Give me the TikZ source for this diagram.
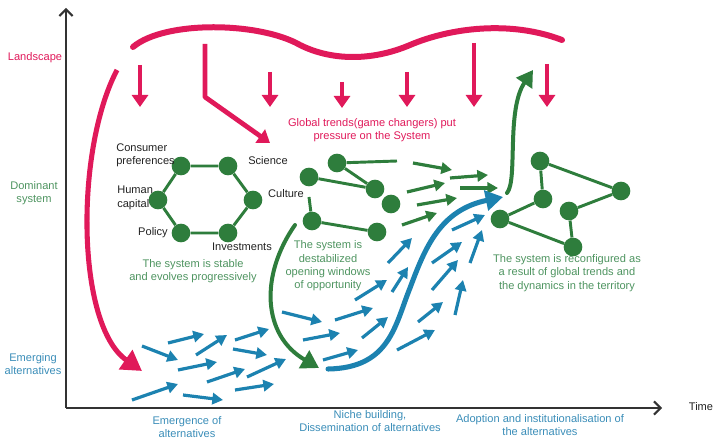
\documentclass[tikz,border=0pt]{standalone}
\usepackage{fontspec}
\setmainfont{Liberation Sans}
\usetikzlibrary{arrows.meta}
\definecolor{pinkc}{HTML}{E0195A}
\definecolor{greenc}{HTML}{2E7D3C}
\definecolor{greent}{HTML}{4E9460}
\definecolor{bluec}{HTML}{1C82B0}
\definecolor{bluet}{HTML}{3A8DB8}
\definecolor{axisc}{HTML}{333333}
\definecolor{labc}{HTML}{222222}
\begin{document}
\begin{tikzpicture}[x=0.75pt,y=-0.75pt,
  lbl/.style={font=\fontsize{8.3}{10}\selectfont, align=center, inner sep=0pt},
  dot/.style={circle, fill=greenc, minimum size=14pt, inner sep=0pt},
  edge/.style={draw=greenc, line width=2.2pt},
  barr/.style={draw=bluec, line width=2.4pt, -{Triangle[length=8pt,width=8.5pt]}},
  garr/.style={draw=greenc, line width=2.4pt, -{Triangle[length=8pt,width=8.5pt]}},
  parr/.style={draw=pinkc, line width=3.6pt, -{Triangle[length=9pt,width=12pt]}},
  axis/.style={draw=axisc, line width=1.5pt, -{Straight Barb[length=5pt,width=10pt]}}
  ]
\path[use as bounding box] (0,0) rectangle (715,441);

% axes
\coordinate (o) at (66,408);
\coordinate (ytop) at (66,8);
\coordinate (xend) at (662,408);
\draw[axis] (o) -- (ytop);
\draw[axis] (o) -- (xend);
\node[lbl, text=labc] (time) at (701,407) {Time};

% left labels
\node[lbl, text=pinkc] (land) at (35,58) {Landscape};
\node[lbl, text=greent] (dom) at (34,193) {Dominant\\system};
\node[lbl, text=bluet] (emer) at (33,364) {Emerging\\alternatives};

% bottom labels
\node[lbl, text=bluet] (b1l) at (187,427) {Emergence of\\alternatives};
\node[lbl, text=bluet] (b2l) at (370,421) {Niche building,\\Dissemination of alternatives};
\node[lbl, text=bluet] (b3l) at (540,425) {Adoption and institutionalisation of\\the alternatives};

% landscape curve
\coordinate (lc1) at (133,47);
\coordinate (lc2) at (300,45);
\coordinate (lc3) at (410,45);
\coordinate (lc4) at (562,40);
\draw[pinkc, line width=4.5pt, line cap=round]
  (lc1) .. controls (165,20) and (260,22) .. (lc2)
        .. controls (330,60) and (370,62) .. (lc3)
        .. controls (450,28) and (510,20) .. (lc4);

% pink down arrows
\foreach \n/\x/\ya/\yb in {p1/140/65/107, p2/270/72/107, p3/342/82/108, p4/407/72/107, p5/474/43/107, p6/547/64/107}{
  \coordinate (\n s) at (\x,\ya);
  \coordinate (\n e) at (\x,\yb);
  \draw[parr] (\n s) -- (\n e);
}
% bent pink arrow
\coordinate (pbs) at (205,44);
\coordinate (pbm) at (205,97);
\coordinate (pbe) at (270,143);
\draw[parr, line join=round] (pbs) -- (pbm) -- (pbe);

% big left pink arrow
\coordinate (pls) at (117,70);
\coordinate (ple) at (142,371);
\draw[draw=pinkc, line width=3.8pt, -{Triangle[length=15pt,width=17pt]}]
  (pls) .. controls (75,150) and (76,325) .. (ple);

\node[lbl, text=pinkc] (gt) at (372,130) {Global trends(game changers) put\\pressure on the System};

% stable hexagon system
\node[dot] (h1) at (181,166) {};
\node[dot] (h2) at (228,166) {};
\node[dot] (h3) at (253,200) {};
\node[dot] (h4) at (228,233) {};
\node[dot] (h5) at (181,233) {};
\node[dot] (h6) at (158,200) {};
\draw[edge] (h1) -- (h2) -- (h3) -- (h4) -- (h5) -- (h6) -- (h1);
\node[lbl, text=labc, align=left, anchor=west] (cp) at (116,155) {Consumer\\preferences};
\node[lbl, text=labc, align=left, anchor=west] (hc) at (117,198) {Human\\capital};
\node[lbl, text=labc] (pol) at (153,233) {Policy};
\node[lbl, text=labc] (inv) at (242,247) {Investments};
\node[lbl, text=labc] (sci) at (268,161) {Science};
\node[lbl, text=labc] (cul) at (286,194) {Culture};
\node[lbl, text=greent] (t1) at (193,271) {The system is stable\\and evolves progressively};

% destabilized system
\node[dot] (dA) at (337,163) {};
\node[dot] (dB) at (375,189) {};
\node[dot] (dC) at (309,177) {};
\node[dot] (dD) at (391,204) {};
\node[dot] (dE) at (312,221) {};
\node[dot] (dF) at (377,232) {};
\coordinate (dAf) at (397,161);
\coordinate (dEf) at (309,197);
\draw[edge] (dA) -- (dAf);
\draw[edge] (dA) -- (dB);
\draw[edge] (dC) -- (dB);
\draw[edge] (dE) -- (dEf);
\draw[edge] (dE) -- (dF);
\node[lbl, text=greent] (t2) at (328,266) {The system is\\destabilized\\opening windows\\of opportunity};

% green arrows
\foreach \n/\a/\b/\c/\d in {g1/413/163/452/170, g2/450/178/488/175, g3/407/192/445/183, g4/460/188/498/188, g5/417/205/457/198, g6/402/225/437/213}{
  \coordinate (\n s) at (\a,\b);
  \coordinate (\n e) at (\c,\d);
  \draw[garr] (\n s) -- (\n e);
}

% big green curved arrow down
\coordinate (gcs) at (295,225);
\coordinate (gce) at (319,368);
\draw[draw=greenc, line width=3pt, line cap=round, -{Triangle[length=13pt,width=15pt]}]
  (gcs) .. controls (260,275) and (262,335) .. (gce);

% green up arrow
\coordinate (gus) at (507,193);
\coordinate (gue) at (533,70);
\draw[draw=greenc, line width=3pt, line cap=round, -{Triangle[length=12pt,width=14pt]}]
  (gus) .. controls (518,180) and (506,110) .. (gue);

% reconfigured system
\node[dot] (rP) at (540,161) {};
\node[dot] (rQ) at (543,199) {};
\node[dot] (rR) at (500,219) {};
\node[dot] (rS) at (569,211) {};
\node[dot] (rT) at (621,191) {};
\node[dot] (rU) at (573,247) {};
\draw[edge] (rP) -- (rQ) -- (rR) -- (rU) -- (rS) -- (rT) -- (rP);
\node[lbl, text=greent] (t3) at (567,273) {The system is reconfigured as\\a result of global trends and\\the dynamics in the territory};

% blue arrows
\foreach \n/\a/\b/\c/\d in {
  1/142/346/178/360, 2/168/343/204/334, 3/196/355/227/335, 4/178/370/217/362,
  5/132/400/178/384, 6/207/382/245/369, 7/183/395/223/400, 8/235/340/269/329,
  9/233/349/267/355, 10/247/377/286/359, 11/235/390/274/384, 12/282/312/322/322,
  13/303/340/340/333, 14/323/360/358/350, 15/335/320/373/308, 16/355/300/387/280,
  17/362/338/388/317, 18/388/263/412/238, 19/392/292/408/267, 20/432/263/462/242,
  21/432/290/458/260, 22/452/230/485/215, 23/470/263/482/230, 24/418/322/443/302,
  25/455/315/463/280, 26/397/350/435/330}{
  \coordinate (b\n s) at (\a,\b);
  \coordinate (b\n e) at (\c,\d);
  \draw[barr] (b\n s) -- (b\n e);
}

% thick blue S arrow
\coordinate (bts) at (328,369);
\coordinate (btm) at (410,288);
\coordinate (bte) at (503,197);
\draw[draw=bluec, line width=3.8pt, line cap=round, -{Triangle[length=13pt,width=15pt]}]
  (bts) .. controls (390,368) and (395,325) .. (btm)
        .. controls (425,248) and (440,210) .. (bte);
\end{tikzpicture}
\end{document}
